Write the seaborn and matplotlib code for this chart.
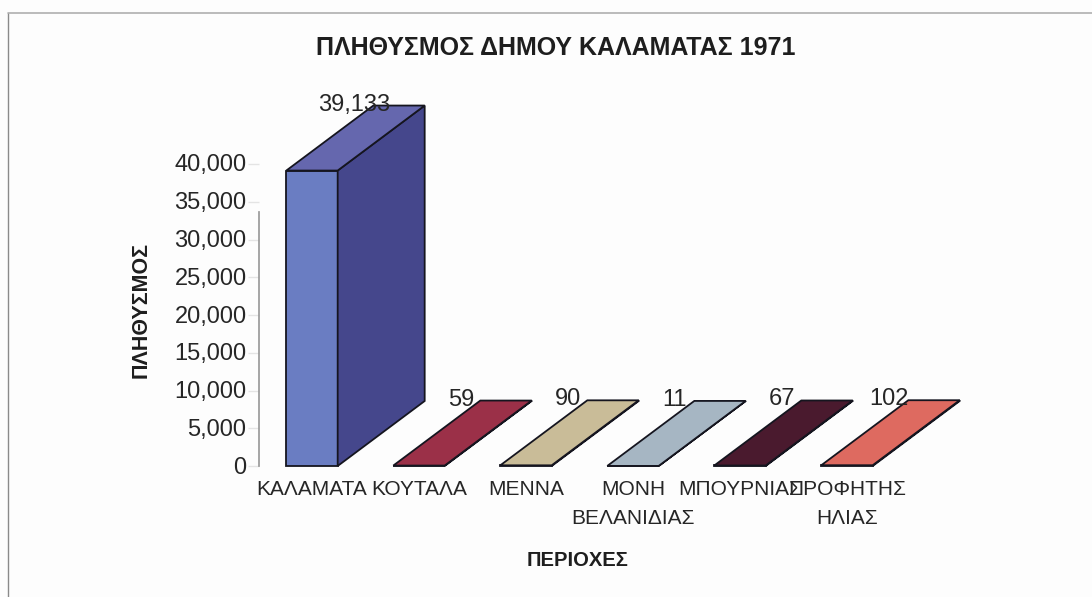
import matplotlib
matplotlib.use("Agg")
import matplotlib.pyplot as plt
import seaborn as sns
from matplotlib.lines import Line2D
from matplotlib.patches import Polygon
from matplotlib.transforms import ScaledTranslation

regions = ["ΚΑΛΑΜΑΤΑ", "ΚΟΥΤΑΛΑ", "ΜΕΝΝΑ", "ΜΟΝΗ\nΒΕΛΑΝΙΔΙΑΣ", "ΜΠΟΥΡΝΙΑΣ", "ΠΡΟΦΗΤΗΣ\nΗΛΙΑΣ"]
population = [39133, 59, 90, 11, 67, 102]
value_labels = ["39,133", "59", "90", "11", "67", "102"]
front_colors = ["#6A7DC2", "#9B3048", "#C9BC98", "#A6B6C3", "#4A1A2E", "#DE6A60"]
top_colors = ["#6567AE", "#9B3048", "#C9BC98", "#A6B6C3", "#4A1A2E", "#DE6A60"]
side_colors = ["#45478C", "#7A2438", "#A89C7C", "#8896A2", "#3A1424", "#B85048"]
y_ticks = [0, 5000, 10000, 15000, 20000, 25000, 30000, 35000, 40000]

W, H = 1092, 597
AX_L, AX_R, AX_B, AX_T = 259, 1000, 466, 164
STEP = 107.0
C0 = 312.0
DEPTH_X, DEPTH_Y = 87.0, 65.0
TXT = "#262626"

sns.set_theme(style="white")
plt.rcParams["font.family"] = ["Liberation Sans", "DejaVu Sans"]
fig = plt.figure(figsize=(W / 100, H / 100), dpi=100, facecolor="#FDFDFD")
ax = fig.add_axes([AX_L / W, 1 - AX_B / H, (AX_R - AX_L) / W, (AX_B - AX_T) / H])
ax.patch.set_alpha(0)

sns.barplot(x=regions, y=population, hue=regions, palette=front_colors, legend=False,
            width=0.48, edgecolor="#15151F", linewidth=1.3, ax=ax, clip_on=False, dodge=False,
            saturation=1)
ax.set_xlim((AX_L - C0) / STEP, (AX_R - C0) / STEP)
ax.set_ylim(0, 40000)

upp = 40000 / (AX_B - AX_T)
dx, dy = DEPTH_X / STEP, DEPTH_Y * upp
for i, patch in enumerate(ax.patches[:len(regions)]):
    x0, w, h = patch.get_x(), patch.get_width(), patch.get_height()
    x1 = x0 + w
    ax.add_patch(Polygon([(x1, 0), (x1 + dx, dy), (x1 + dx, h + dy), (x1, h)], closed=True,
                         facecolor=side_colors[i], edgecolor="#15151F", lw=1.3, clip_on=False))
    ax.add_patch(Polygon([(x0, h), (x1, h), (x1 + dx, h + dy), (x0 + dx, h + dy)], closed=True,
                         facecolor=top_colors[i], edgecolor="#15151F", lw=1.3, clip_on=False))
    ax.annotate(value_labels[i], (x0 + w / 2, h), xytext=(42 * 0.72, 66 * 0.72),
                textcoords="offset points", ha="center", va="center",
                fontsize=17, color=TXT, annotation_clip=False, zorder=5)

sns.despine(ax=ax, top=True, right=True, bottom=True)
ax.spines["left"].set_bounds(0, 33600)
ax.spines["left"].set_color("#9A9A9A")
ax.set_yticks(y_ticks)
ax.set_yticklabels([f"{v:,}" for v in y_ticks], fontsize=17, color=TXT)
ax.tick_params(axis="y", length=8, width=1, color="#E4E4E4", pad=1, left=True)
ax.tick_params(axis="x", length=0, pad=10)
ax.set_xticks(range(len(regions)))
ax.set_xticklabels(regions, fontsize=15, color=TXT, linespacing=1.7)
ax.set_xlabel("")
ax.set_ylabel("")
shift = ScaledTranslation(0, 1 / 100, fig.dpi_scale_trans)
for lab in ax.get_yticklabels():
    lab.set_transform(lab.get_transform() + shift)

fig.text(556 / W, 1 - 48 / H, "ΠΛΗΘΥΣΜΟΣ ΔΗΜΟΥ ΚΑΛΑΜΑΤΑΣ 1971", ha="center", va="center",
         fontsize=18, fontweight="bold", color="#1E1E1E")
fig.text(578 / W, 1 - 561 / H, "ΠΕΡΙΟΧΕΣ", ha="center", va="center",
         fontsize=14.5, fontweight="bold", color="#1E1E1E")
fig.text(141 / W, 1 - 310 / H, "ΠΛΗΘΥΣΜΟΣ", ha="center", va="center", rotation=90,
         fontsize=15.5, fontweight="bold", color="#1E1E1E")

fig.add_artist(Line2D([8 / W, 8 / W], [0, 1 - 13 / H], color="#8A8A8A", lw=1))
fig.add_artist(Line2D([8 / W, 1], [1 - 13 / H, 1 - 13 / H], color="#B0B0B0", lw=1.2))

fig.savefig("out.png", dpi=100, facecolor=fig.get_facecolor())
